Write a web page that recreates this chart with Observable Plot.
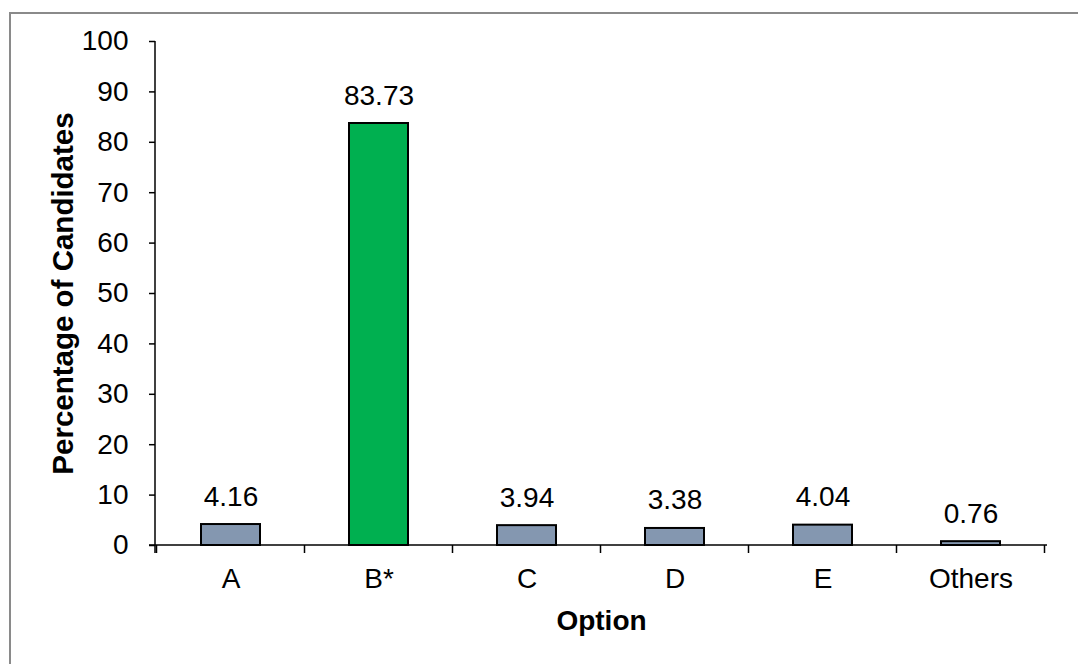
<!DOCTYPE html>
<html>
<head>
<meta charset="utf-8">
<script src="https://cdn.jsdelivr.net/npm/d3@7"></script>
<script src="https://cdn.jsdelivr.net/npm/@observablehq/plot@0.6"></script>
<style>
  html, body { margin: 0; padding: 0; background: #fff; }
  #wrap { position: relative; width: 1078px; height: 664px; overflow: hidden; }
  #border { position: absolute; left: 9px; top: 12px; width: 1200px; height: 800px;
            border-left: 2px solid #8a8a8a; border-top: 2px solid #8a8a8a; }
  #chart { position: absolute; left: 0; top: 0; }
</style>
</head>
<body>
<div id="wrap"><div id="border"></div><div id="chart"></div></div>
<script>
const categories = ["A", "B*", "C", "D", "E", "Others"];
const values = [4.16, 83.73, 3.94, 3.38, 4.04, 0.76];
const barColors = ["#8497b0", "#00b050", "#8497b0", "#8497b0", "#8497b0", "#8497b0"];
const yTicks = [0, 10, 20, 30, 40, 50, 60, 70, 80, 90, 100];
const xTitle = "Option";
const yTitle = "Percentage of Candidates";

const data = categories.map((c, i) => ({cat: c, value: values[i], color: barColors[i]}));

// Custom mark: axis lines and boundary ticks on the x axis
function axisLines(index, scales, values, dim) {
  const x = scales.x, y = scales.y;
  const bw = x.bandwidth();
  const step = categories.length > 1 ? x(categories[1]) - x(categories[0]) : bw;
  const gap = (step - bw) / 2;
  const g = d3.create("svg:g").attr("stroke", "#000").attr("stroke-width", 1.5).attr("fill", "none");
  const left = dim.marginLeft, right = dim.width - dim.marginRight;
  const y0 = y(0), yTop = y(100);
  g.append("line").attr("x1", left).attr("x2", left).attr("y1", yTop).attr("y2", y0 + 8);
  g.append("line").attr("x1", left - 6).attr("x2", right).attr("y1", y0).attr("y2", y0);
  const bounds = categories.map(c => x(c) - gap).concat([x(categories[categories.length - 1]) + bw + gap]);
  for (const b of bounds) {
    g.append("line").attr("x1", b).attr("x2", b).attr("y1", y0).attr("y2", y0 + 8);
  }
  return g.node();
}

const FS = 28;
const chart = Plot.plot({
  width: 1078,
  height: 664,
  marginLeft: 155,
  marginRight: 31,
  marginTop: 41,
  marginBottom: 119,
  style: {fontFamily: "'Liberation Sans', Arial, sans-serif", fontSize: FS + "px", color: "#000", background: "transparent"},
  x: {domain: categories, paddingInner: 0.6, paddingOuter: 0.3},
  y: {domain: [0, 100]},
  marks: [
    Plot.barY(data, {x: "cat", y: "value", fill: "color", stroke: "#000", strokeWidth: 2}),
    Plot.text(data, {x: "cat", y: "value", text: d => d.value.toFixed(2), lineAnchor: "bottom", dy: -19, fontSize: FS, fill: "#000"}),
    Plot.axisY(yTicks, {tickSize: 6, tickPadding: 21, fontSize: FS, label: null, stroke: "#000", strokeWidth: 1.5}),
    Plot.axisX({tickSize: 0, tickPadding: 23, fontSize: FS, label: null}),
    axisLines,
    Plot.text([xTitle], {frameAnchor: "bottom", textAnchor: "middle", dy: 84, fontSize: FS, fontWeight: "bold", fill: "#000"}),
    Plot.text([yTitle], {frameAnchor: "left", textAnchor: "middle", dx: -92, rotate: -90, fontSize: 29.5, fontWeight: "bold", fill: "#000"})
  ]
});
document.getElementById("chart").appendChild(chart);
</script>
</body>
</html>
